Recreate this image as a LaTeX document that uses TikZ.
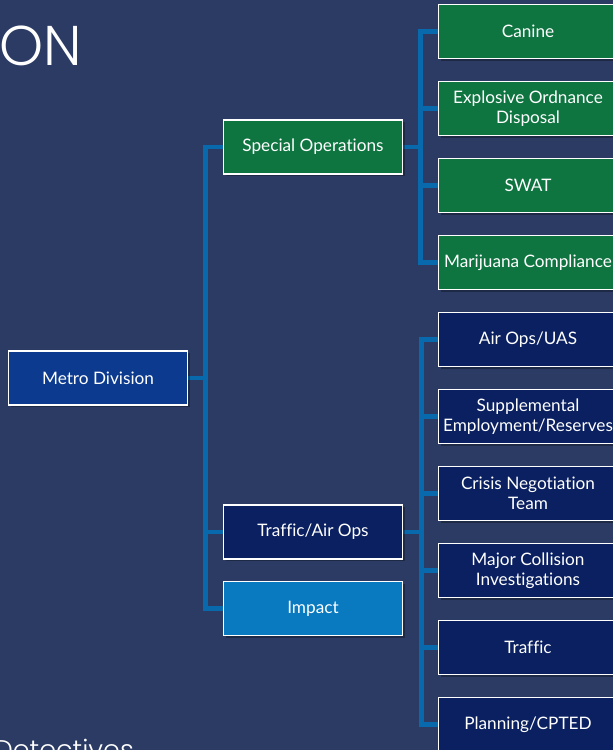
\documentclass[tikz,border=0pt]{standalone}
\usepackage{fontspec}
\setmainfont{Lato}[Ligatures={NoCommon}]
\newfontfamily\titlefont{Poppins Light}
\usetikzlibrary{shadows}
\definecolor{bgc}{RGB}{43,59,100}
\definecolor{connc}{RGB}{8,106,172}
\definecolor{greenc}{RGB}{14,117,64}
\definecolor{metroc}{RGB}{11,58,143}
\definecolor{navyc}{RGB}{10,32,96}
\definecolor{impactc}{RGB}{9,121,192}
\pgfdeclarelayer{bg}
\pgfdeclarelayer{conn}
\pgfsetlayers{bg,conn,main}
\begin{document}
\begin{tikzpicture}[x=1pt,y=-1pt,
  box/.style={draw=white, line width=1.8pt, minimum width=179pt, minimum height=54pt,
    align=center, text=white, font=\fontsize{17.2}{20}\selectfont, inner sep=2pt,
    drop shadow={opacity=0.3, shadow xshift=2pt, shadow yshift=-2pt, fill=black}},
  greenbox/.style={box, fill=greenc},
  navybox/.style={box, fill=navyc},
  conn/.style={draw=connc, line width=4.5pt, line join=miter}]
\useasboundingbox (0,0) rectangle (613,750);
\clip (0,0) rectangle (613,750);
\begin{pgfonlayer}{bg}
  \fill[bgc] (0,0) rectangle (613,750);
\end{pgfonlayer}
\node[text=white, font=\titlefont\fontsize{56}{60}\selectfont, anchor=base west, inner sep=0pt] (title) at (-1,65.5) {ON};
\node[text=white, font=\titlefont\fontsize{27}{30}\selectfont, anchor=base east, inner sep=0pt] (det) at (134,759) {Detectives};
\node[box, fill=metroc] (metro) at (98,378) {Metro Division};
\node[greenbox] (spec) at (313,147) {Special Operations};
\node[navybox] (traf) at (313,532) {Traffic/Air Ops};
\node[box, fill=impactc] (imp) at (313,608.5) {Impact};
\node[greenbox] (canine) at (528,31.5) {Canine};
\node[greenbox] (eod) at (528,108.5) {Explosive Ordnance\\Disposal};
\node[greenbox] (swat) at (528,185.5) {SWAT};
\node[greenbox] (mj) at (528,262.5) {Marijuana Compliance};
\node[navybox] (air) at (528,339.5) {Air Ops/UAS};
\node[navybox] (supp) at (528,416.5) {Supplemental\\Employment/Reserves};
\node[navybox] (crisis) at (528,493.5) {Crisis Negotiation\\Team};
\node[navybox] (major) at (528,570.5) {Major Collision\\Investigations};
\node[navybox] (traffic) at (528,647.5) {Traffic};
\node[navybox] (plan) at (528,724.5) {Planning/CPTED};
\begin{pgfonlayer}{conn}
  \draw[conn] (metro.east) -- ++(17,0) coordinate (mt);
  \draw[conn] (mt) |- (spec.west);
  \draw[conn] (mt) |- (traf.west);
  \draw[conn] (mt) |- (imp.west);
  \draw[conn] (spec.east) -- ++(17,0) coordinate (st);
  \foreach \n in {canine,eod,swat,mj} \draw[conn] (st) |- (\n.west);
  \draw[conn] (traf.east) -- ++(18,0) coordinate (tt);
  \foreach \n in {air,supp,crisis,major,traffic,plan} \draw[conn] (tt) |- (\n.west);
\end{pgfonlayer}
\end{tikzpicture}
\end{document}
